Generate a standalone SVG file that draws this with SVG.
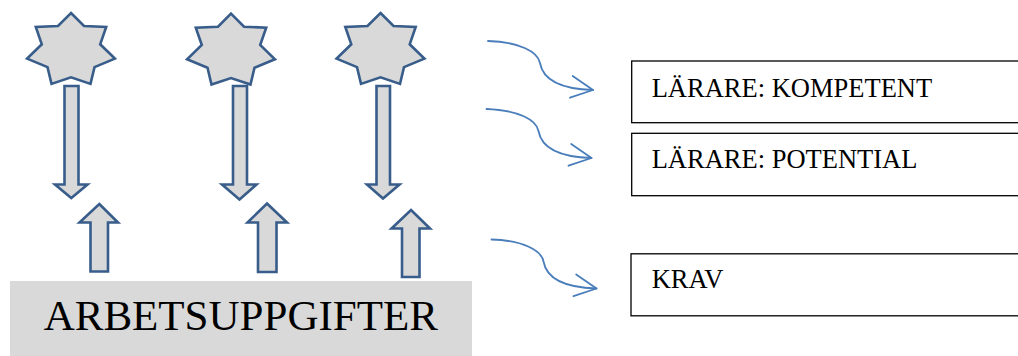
<svg xmlns="http://www.w3.org/2000/svg" xmlns:xlink="http://www.w3.org/1999/xlink" width="1018" height="356" viewBox="0 0 1018 356">
  <style>
    .block { fill: #D9D9D9; stroke: #385D8A; stroke-width: 2.6; stroke-linejoin: miter; }
    .flow { fill: none; stroke: #4A7EBB; stroke-width: 1.8; stroke-linecap: round; stroke-linejoin: round; }
    .box { fill: #FFFFFF; stroke: #000000; stroke-width: 1.3; }
    .label { font-family: "Liberation Serif", "Times New Roman", serif; font-size: 26.5px; fill: #000000; }
    .base { fill: #D9D9D9; }
    .base-label { font-family: "Liberation Serif", "Times New Roman", serif; font-size: 43px; fill: #000000; }
  </style>
  <defs>
    <!-- seven-pointed star centred on the origin -->
    <polygon id="star7" points="0,-37.3 13,-24.3 35.2,-23.3 29.2,-6 43.9,8.3 23.5,16.8 19.5,33.6 0,27 -19.5,33.6 -23.5,16.8 -43.9,8.3 -29.2,-6 -35.2,-23.3 -13,-24.3"/>
    <!-- wavy open arrow -->
    <g id="wave">
      <path d="M488,41 C520,42 538,52 540,63 C543,80 560,89 593,90"/>
      <polyline points="572.7,76 593,90 570,97.7"/>
    </g>
  </defs>

  <rect width="1018" height="356" fill="#FFFFFF"/>

  <!-- block arrows between stars and the base -->
  <g id="block-arrows">
    <polygon class="block" points="64.5,86 78.5,86 78.5,184.5 87.5,184.5 71.3,198 55,184.5 64.5,184.5"/>
    <polygon class="block" points="233,86 247,86 247,184.5 256.5,184.5 239.5,199.5 222,184.5 233,184.5"/>
    <polygon class="block" points="376.5,86 390,86 390,184.5 399.5,184.5 383,198.5 367,184.5 376.5,184.5"/>
    <polygon class="block" points="99.3,204 118,222.5 108,222.5 108,271.5 90.5,271.5 90.5,222.5 79.5,222.5"/>
    <polygon class="block" points="267,203.5 287,222.5 276.5,222.5 276.5,272 258,272 258,222.5 247.5,222.5"/>
    <polygon class="block" points="411,210 430,228.5 419.5,228.5 419.5,277 402,277 402,228.5 391.5,228.5"/>
  </g>

  <g id="star-1"><use xlink:href="#star7" href="#star7" class="block" transform="translate(71,50.3)"/></g>
  <g id="star-2"><use xlink:href="#star7" href="#star7" class="block" transform="translate(231,51)"/></g>
  <g id="star-3"><use xlink:href="#star7" href="#star7" class="block" transform="translate(380.5,50.3)"/></g>

  <g id="arbetsuppgifter">
    <rect class="base" x="10" y="281" width="462" height="80"/>
    <text class="base-label" x="240.8" y="330" text-anchor="middle">ARBETSUPPGIFTER</text>
  </g>

  <!-- wavy connectors -->
  <g id="connectors" class="flow">
    <use xlink:href="#wave" href="#wave"/>
    <use xlink:href="#wave" href="#wave" transform="translate(-1.5,68)"/>
    <use xlink:href="#wave" href="#wave" transform="translate(3.5,198.5)"/>
  </g>

  <g id="larare-kompetent">
    <rect class="box" x="631.7" y="61" width="420" height="61.7"/>
    <text class="label" x="651.7" y="97.3">LÄRARE: KOMPETENT</text>
  </g>
  <g id="larare-potential">
    <rect class="box" x="631.7" y="133.3" width="420" height="62.4"/>
    <text class="label" x="651.7" y="167.7">LÄRARE: POTENTIAL</text>
  </g>
  <g id="krav">
    <rect class="box" x="631" y="253.8" width="420" height="62"/>
    <text class="label" x="651.7" y="287.5">KRAV</text>
  </g>
</svg>
